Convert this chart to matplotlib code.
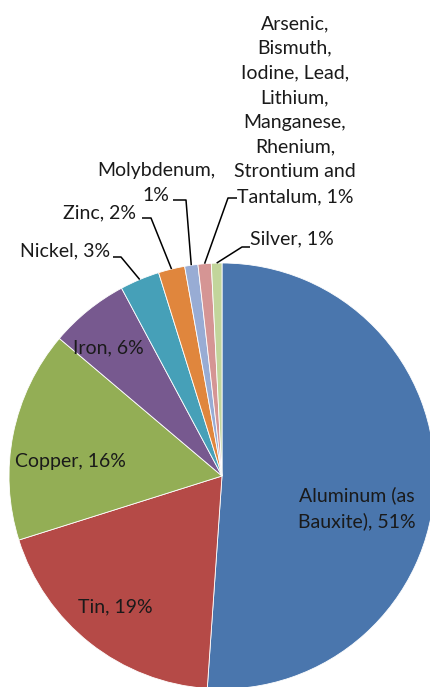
import numpy as np
import matplotlib.pyplot as plt

H = 687  # figure height in px, texts/lines below are given in pixel coords (y down)

metals = ["Aluminum (as\nBauxite), 51%", "Tin, 19%", "Copper, 16%", "Iron, 6%",
          "Nickel, 3%", "Zinc, 2%", "Molybdenum,\n1%",
          "Arsenic,\nBismuth,\nIodine, Lead,\nLithium,\nManganese,\nRhenium,\nStrontium and\nTantalum, 1%",
          "Silver, 1%"]
shares = [51, 19, 16, 6, 3, 2, 1, 1, 0.8]
colors = ["#4A76AD", "#B54A47", "#93AE55", "#77598F", "#46A0B8",
          "#E0863D", "#98ACD4", "#D59594", "#C2D59B"]

plt.rcParams['font.family'] = ['Lato', 'DejaVu Sans']

fig = plt.figure(figsize=(4.31, 6.87), dpi=100)
ax = fig.add_axes([0, 0, 1, 1])
cx, cy, r = 222, H - 476, 213
wedges, _ = ax.pie(shares, colors=colors, startangle=90, counterclock=False,
                   center=(cx, cy), radius=r,
                   wedgeprops=dict(edgecolor="white", linewidth=0.6))
ax.set_xlim(0, 431)
ax.set_ylim(0, H)
ax.axis("off")

# label centres (px) and optional leader paths (label end -> elbow)
label_pos = [(357, 508), (115, 607), (70, 462), (108, 348), (65, 251),
             (100, 213), (156, 183), (295, 110), (292, 239)]
leaders = {4: [(113, 257), (121, 257)],
           5: [(142, 218), (151, 218)],
           6: [(173, 200), (186, 200)],
           7: [(237, 198), (228, 198)],
           8: [(250, 247), (242, 247)]}

fs = 14
for i, (lab, (x, y)) in enumerate(zip(metals, label_pos)):
    ax.text(x, H - y, lab, ha="center", va="center", fontsize=fs,
            color="#1a1a1a", linespacing=1.55)
    if i in leaders:
        w = wedges[i]
        mid = np.deg2rad((w.theta1 + w.theta2) / 2)
        ex, ey = cx + r * np.cos(mid), cy + r * np.sin(mid)
        pts = [(px, H - py) for px, py in leaders[i]] + [(ex, ey)]
        xs, ys = zip(*pts)
        ax.plot(xs, ys, color="black", lw=1.1, solid_capstyle="butt")

fig.savefig("out.png", dpi=100)
